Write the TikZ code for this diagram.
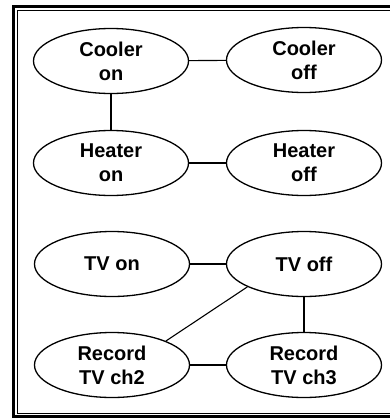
\documentclass[tikz,border=0pt]{standalone}
\usepackage{fontspec}
\setmainfont{Liberation Sans}
\usetikzlibrary{shapes.geometric}
\tikzset{
  state/.style={ellipse, draw=black, line width=1.3pt, minimum width=155pt, minimum height=65pt,
    inner sep=0pt, align=center, font=\fontsize{20}{24}\selectfont\bfseries},
  link/.style={draw=black, line width=1.1pt},
}
\begin{document}
\begin{tikzpicture}[x=1pt,y=-1pt]
\useasboundingbox (0,0) rectangle (390,418);
\fill[white] (0,0) rectangle (390,418);
\begin{scope}
\clip (0,0) rectangle (390,418);
\draw[line width=3pt] (13.5,6.5) rectangle (400,416.5);
\draw[line width=1pt] (17.5,10.5) rectangle (400,413);
\end{scope}
\node[state] (con) at (111,61) {Cooler\\on};
\node[state] (coff) at (304,60) {Cooler\\off};
\node[state] (hon) at (111,163) {Heater\\on};
\node[state] (hoff) at (304,163) {Heater\\off};
\node[state] (tvon) at (112,264) {TV on};
\node[state] (tvoff) at (304,264) {TV off};
\node[state] (r2) at (112,365) {Record\\TV ch2};
\node[state] (r3) at (304,365) {Record\\TV ch3};
\draw[link] (con) -- (coff);
\draw[link] (con) -- (hon);
\draw[link] (hon) -- (hoff);
\draw[link] (tvon) -- (tvoff);
\draw[link] (tvoff) -- (r3);
\draw[link] (r2) -- (r3);
\draw[link] (r2.24) -- (tvoff.202);
\end{tikzpicture}
\end{document}
